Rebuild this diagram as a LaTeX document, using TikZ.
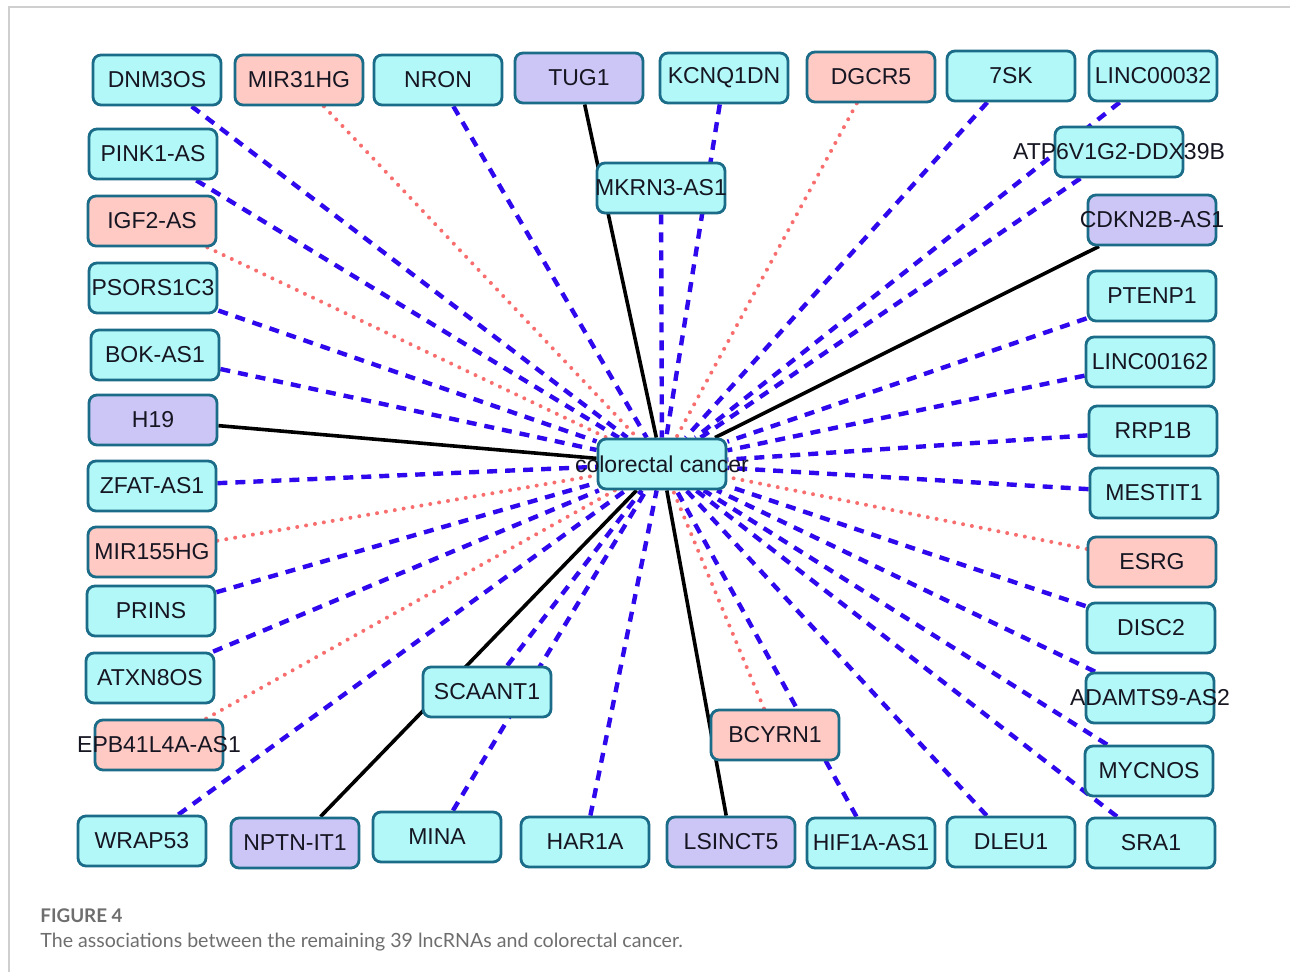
\documentclass[tikz,border=0pt]{standalone}
\usepackage{fontspec}
\usepackage{tikz}
\usetikzlibrary{backgrounds}
\newfontfamily\genefont{Liberation Sans}
\newfontfamily\capfont{Lato}
\definecolor{lncrim}{HTML}{1B6C88}
\definecolor{lnccyan}{HTML}{B2F8F8}
\definecolor{lncpink}{HTML}{FFC9C4}
\definecolor{lncviolet}{HTML}{CCC6F6}
\definecolor{lncink}{HTML}{161622}
\definecolor{predblue}{HTML}{3008EE}
\definecolor{exptred}{HTML}{F86E6E}
\definecolor{framegray}{HTML}{CFCFCF}
\definecolor{capgray}{HTML}{6E6E6E}
\newcommand\spill[1]{\makebox[0pt]{#1}}

\begin{document}
\begin{tikzpicture}[
  x=0.5pt,y=-0.5pt,
  lnc/.style={draw=lncrim,fill=lnccyan,line width=1.4pt,rounded corners=4pt,minimum width=64pt,minimum height=25pt,inner sep=0pt,text=lncink,font=\genefont\fontsize{11.5}{13}\selectfont},
  lncred/.style={lnc,fill=lncpink},
  lncvio/.style={lnc,fill=lncviolet},
  link/.style={draw=black,line width=1.8pt},
  pred/.style={draw=predblue,line width=2.2pt,dash pattern=on 5pt off 4pt},
  dotlink/.style={draw=exptred,line width=2pt,line cap=round,dash pattern=on 0pt off 4.5pt},
  captext/.style={anchor=base west,inner sep=0pt,text=capgray}
]
\useasboundingbox (0,0) rectangle (1290,972);
\draw[framegray,line width=0.6pt] (9,972) -- (9,7) -- (1290,7);

% hub
\node[lnc] (crc) at (662,464) {\spill{colorectal cancer}};

% top row
\node[lnc] (dnm3os) at (157,80) {DNM3OS};
\node[lncred] (mir31hg) at (299,80) {MIR31HG};
\node[lnc] (nron) at (438,80) {NRON};
\node[lncvio] (tug1) at (579,78) {TUG1};
\node[lnc] (kcnq1dn) at (724,78) {KCNQ1DN};
\node[lncred] (dgcr5) at (871,77) {DGCR5};
\node[lnc] (sevensk) at (1011,76) {7SK};
\node[lnc] (linc32) at (1153,76) {LINC00032};

% left column
\node[lnc] (pink1as) at (153,154) {PINK1-AS};
\node[lncred] (igf2as) at (152,221) {IGF2-AS};
\node[lnc] (psors) at (153,288) {PSORS1C3};
\node[lnc] (bokas) at (155,355) {BOK-AS1};
\node[lncvio] (h19) at (153,420) {H19};
\node[lnc] (zfat) at (152,486) {ZFAT-AS1};
\node[lncred] (mir155) at (152,552) {MIR155HG};
\node[lnc] (prins) at (151,611) {PRINS};
\node[lnc] (atxn8os) at (150,678) {ATXN8OS};
\node[lncred] (epb41) at (159,745) {\spill{EPB41L4A-AS1}};

% bottom row
\node[lnc] (wrap53) at (142,841) {WRAP53};
\node[lncvio] (nptn) at (295,843) {NPTN-IT1};
\node[lnc] (mina) at (437,837) {MINA};
\node[lnc] (har1a) at (585,842) {HAR1A};
\node[lncvio] (lsinct5) at (731,842) {LSINCT5};
\node[lnc] (hif1a) at (871,843) {HIF1A-AS1};
\node[lnc] (dleu1) at (1011,842) {DLEU1};
\node[lnc] (sra1) at (1151,843) {SRA1};

% right column
\node[lnc] (atp6) at (1119,152) {\spill{ATP6V1G2-DDX39B}};
\node[lncvio] (cdkn) at (1152,220) {\spill{CDKN2B-AS1}};
\node[lnc] (ptenp1) at (1152,296) {PTENP1};
\node[lnc] (linc162) at (1150,362) {LINC00162};
\node[lnc] (rrp1b) at (1153,431) {RRP1B};
\node[lnc] (mestit1) at (1154,493) {MESTIT1};
\node[lncred] (esrg) at (1152,562) {ESRG};
\node[lnc] (disc2) at (1151,628) {DISC2};
\node[lnc] (adamts) at (1150,698) {\spill{ADAMTS9-AS2}};
\node[lnc] (mycnos) at (1149,771) {MYCNOS};

% inner ring
\node[lnc] (mkrn3) at (661,188) {\spill{MKRN3-AS1}};
\node[lnc] (scaant1) at (487,692) {SCAANT1};
\node[lncred] (bcyrn1) at (775,735) {BCYRN1};

\begin{pgfonlayer}{background}
\fill[white] (0,0) rectangle (1290,972);
\foreach \g in {dnm3os,nron,kcnq1dn,sevensk,linc32,pink1as,psors,bokas,zfat,prins,atxn8os,
  wrap53,mina,har1a,hif1a,dleu1,sra1,atp6,ptenp1,linc162,rrp1b,mestit1,disc2,adamts,mycnos,
  mkrn3,scaant1}
  \draw[pred] (\g) -- (crc);
\foreach \g in {mir31hg,dgcr5,igf2as,mir155,epb41,esrg,bcyrn1}
  \draw[dotlink] (\g) -- (crc);
\foreach \g in {tug1,h19,cdkn,nptn,lsinct5}
  \draw[link] (\g) -- (crc);
\end{pgfonlayer}

% caption
\node[captext,font=\capfont\bfseries\fontsize{9.4}{11}\selectfont] (fignum) at (40,922) {FIGURE 4};
\node[captext,font=\capfont\fontsize{9.8}{12}\selectfont] (figcap) at (40,947) {The associations between the remaining 39 lncRNAs and colorectal cancer.};
\end{tikzpicture}
\end{document}
